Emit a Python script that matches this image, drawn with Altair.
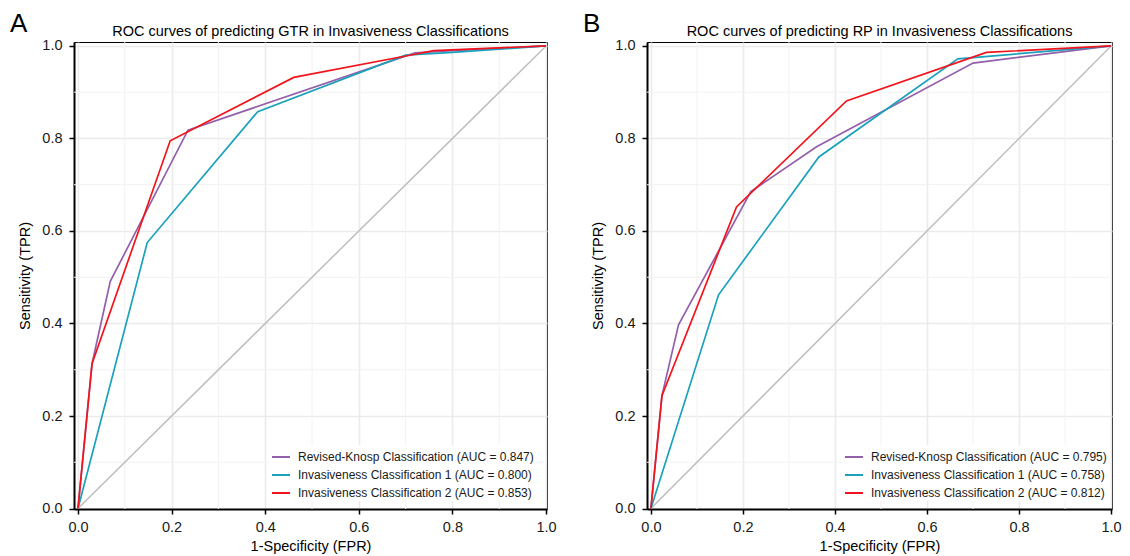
import altair as alt
import pandas as pd

# ---------------- data ----------------
major_ticks = [0.0, 0.2, 0.4, 0.6, 0.8, 1.0]
minor_ticks = [0.1, 0.3, 0.5, 0.7, 0.9]
diag = [0.0, 1.0]

series_colors = ["#9560AA", "#1BA1BC", "#F2141C"]

# Panel A : GTR
a_title = "ROC curves of predicting GTR in Invasiveness Classifications"
a_labels = [
    "Revised-Knosp Classification (AUC = 0.847)",
    "Invasiveness Classification 1 (AUC = 0.800)",
    "Invasiveness Classification 2 (AUC = 0.853)",
]
a_rk_fpr = [0.0, 0.030, 0.069, 0.235, 0.720, 0.800, 1.0]
a_rk_tpr = [0.0, 0.313, 0.491, 0.818, 0.985, 0.990, 1.0]
a_ic1_fpr = [0.0, 0.148, 0.384, 0.700, 0.800, 1.0]
a_ic1_tpr = [0.0, 0.575, 0.858, 0.980, 0.986, 1.0]
a_ic2_fpr = [0.0, 0.030, 0.197, 0.461, 0.720, 0.760, 1.0]
a_ic2_tpr = [0.0, 0.313, 0.795, 0.932, 0.982, 0.990, 1.0]

# Panel B : RP
b_title = "ROC curves of predicting RP in Invasiveness Classifications"
b_labels = [
    "Revised-Knosp Classification (AUC = 0.795)",
    "Invasiveness Classification 1 (AUC = 0.758)",
    "Invasiveness Classification 2 (AUC = 0.812)",
]
b_rk_fpr = [0.0, 0.024, 0.060, 0.217, 0.360, 0.700, 1.0]
b_rk_tpr = [0.0, 0.244, 0.397, 0.685, 0.782, 0.963, 1.0]
b_ic1_fpr = [0.0, 0.147, 0.365, 0.667, 1.0]
b_ic1_tpr = [0.0, 0.462, 0.760, 0.972, 1.0]
b_ic2_fpr = [0.0, 0.024, 0.186, 0.425, 0.729, 1.0]
b_ic2_tpr = [0.0, 0.244, 0.652, 0.881, 0.986, 1.0]

FONT = "Liberation Sans"


def panel(letter, title, labels, curves, width, height):
    rows = []
    for lab, (fx, ty) in zip(labels, curves):
        for i, (f, t) in enumerate(zip(fx, ty)):
            rows.append({"series": lab, "fpr": f, "tpr": t, "idx": i})
    df = pd.DataFrame(rows)

    xs = alt.Scale(domain=[-0.0085, 1.002], nice=False, zero=False)
    ys = alt.Scale(domain=[-0.001, 1.0085], nice=False, zero=False)
    xaxis = alt.Axis(values=major_ticks, format=".1f", title="1-Specificity (FPR)",
                     grid=True, labelFlush=False, labelOverlap=False)
    yaxis = alt.Axis(values=major_ticks, format=".1f", title="Sensitivity (TPR)",
                     grid=True, labelFlush=False, labelOverlap=False)
    X = alt.X("fpr:Q", scale=xs, axis=xaxis)
    Y = alt.Y("tpr:Q", scale=ys, axis=yaxis)

    minor_df = pd.DataFrame({"fpr": minor_ticks, "tpr": minor_ticks})
    vminor = alt.Chart(minor_df).mark_rule(color="#F2F2F2", strokeWidth=1).encode(x=X)
    hminor = alt.Chart(minor_df).mark_rule(color="#F2F2F2", strokeWidth=1).encode(y=Y)

    diag_df = pd.DataFrame({"fpr": diag, "tpr": diag})
    diag_line = alt.Chart(diag_df).mark_line(color="#BEBEBE", strokeWidth=1.5).encode(x=X, y=Y)

    lines = alt.Chart(df).mark_line(strokeWidth=1.7).encode(
        x=X,
        y=Y,
        color=alt.Color(
            "series:N",
            scale=alt.Scale(domain=labels, range=series_colors),
            legend=alt.Legend(
                title=None,
                orient="none",
                legendX=195,
                legendY=403,
                padding=2,
                fillColor="white",
                symbolType="stroke",
                symbolSize=324,
                symbolStrokeWidth=2,
                labelOffset=7,
                rowPadding=2,
                labelFontSize=12,
                labelFont=FONT,
                labelColor="#1a1a1a",
                labelLimit=400,
            ),
        ),
        order="idx:Q",
    )

    letter_df = pd.DataFrame({"lab": [letter]})
    letter_txt = alt.Chart(letter_df).mark_text(
        align="left", baseline="alphabetic", fontSize=26, font=FONT, color="black"
    ).encode(x=alt.value(-64), y=alt.value(-10), text="lab:N")

    title_df = pd.DataFrame({"lab": [title]})
    title_txt = alt.Chart(title_df).mark_text(
        align="center", baseline="alphabetic", fontSize=14.5, font=FONT, color="black"
    ).encode(x=alt.value(width / 2), y=alt.value(-6), text="lab:N")

    return alt.layer(vminor, hminor, diag_line, lines, letter_txt, title_txt).properties(
        width=width,
        height=height,
    )


pa = panel("A", a_title, a_labels,
           [(a_rk_fpr, a_rk_tpr), (a_ic1_fpr, a_ic1_tpr), (a_ic2_fpr, a_ic2_tpr)], 473, 467)
pb = panel("B", b_title, b_labels,
           [(b_rk_fpr, b_rk_tpr), (b_ic1_fpr, b_ic1_tpr), (b_ic2_fpr, b_ic2_tpr)], 465, 467)

chart = (
    alt.hconcat(pa, pb, spacing=25)
    .resolve_scale(color="independent")
    .properties(padding={"left": 1, "top": 2, "right": 0, "bottom": 0})
    .configure(font=FONT)
    .configure_view(stroke="black", strokeWidth=1)
    .configure_axis(
        domainColor="black", domainWidth=2,
        tickColor="black", tickWidth=1.5, tickSize=5,
        labelFontSize=14.5, labelColor="#1a1a1a", labelFont=FONT,
        titleFontSize=14.5, titleFontWeight="normal", titleColor="black", titleFont=FONT,
        gridColor="#EBEBEB", gridWidth=1.6,
    )
    .configure_axisX(labelPadding=6, titlePadding=6)
    .configure_axisY(labelPadding=7, titlePadding=9)
)

chart.save("out.html", embed_options={"renderer": "svg", "actions": False})
